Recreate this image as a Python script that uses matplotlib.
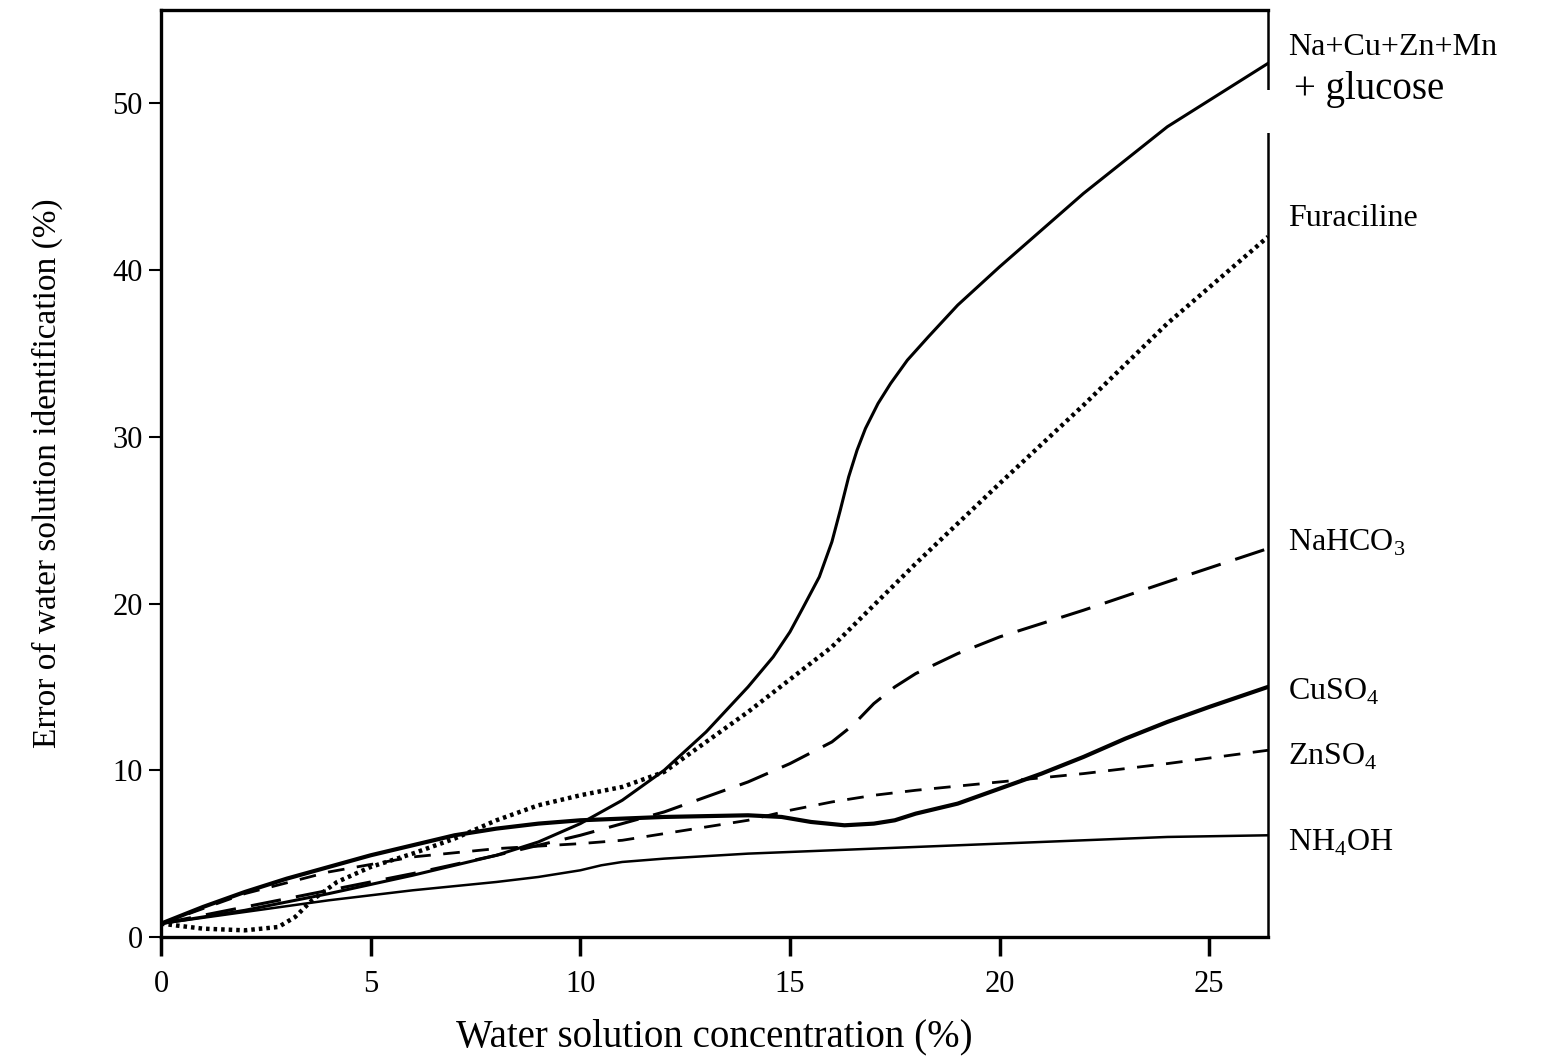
import matplotlib.pyplot as plt
import matplotlib.patches as mpatches

plt.rcParams['font.family'] = ['Liberation Serif', 'DejaVu Serif']
plt.rcParams['mathtext.fontset'] = 'custom'
plt.rcParams['mathtext.rm'] = 'Liberation Serif'

# Data (concentration %, identification error %)
mix_x = [0, 2, 4, 6, 8, 9, 10, 11, 12, 13, 14, 14.6, 15.0, 15.3, 15.7, 16.0, 16.2, 16.4, 16.6, 16.8, 17.1,
         17.4, 17.8, 18.3, 19, 20, 22, 24, 26.4]
mix_y = [0.8, 1.6, 2.6, 3.7, 4.9, 5.7, 6.8, 8.2, 10.0, 12.3, 15.0, 16.8, 18.3, 19.7, 21.6, 23.7, 25.6, 27.6,
         29.2, 30.5, 32.0, 33.2, 34.6, 36.0, 37.9, 40.2, 44.6, 48.6, 52.4]

fur_x = [0, 1, 2, 2.8, 3.2, 3.6, 4.2, 5, 6, 7, 8, 9, 10, 11, 12, 14, 16, 18, 20, 22, 24, 26.4]
fur_y = [0.8, 0.5, 0.4, 0.6, 1.2, 2.2, 3.3, 4.2, 5.0, 5.9, 7.0, 7.9, 8.5, 9.0, 9.9, 13.5, 17.4, 22.4, 27.2, 31.9, 36.8, 42.0]

nahco3_x = [0, 2, 4, 6, 8, 10, 12, 14, 15, 16, 16.5, 17, 17.5, 18, 19, 20, 22, 24, 26.4]
nahco3_y = [0.8, 1.8, 2.8, 3.8, 4.9, 6.1, 7.5, 9.3, 10.4, 11.7, 12.7, 14.0, 15.0, 15.8, 17.0, 18.0, 19.6, 21.3, 23.3]

cuso4_x = [0, 1, 2, 3, 4, 5, 6, 7, 8, 9, 10, 11, 12, 13, 14, 14.8, 15.5, 16.3, 17, 17.5, 18, 19, 20, 21, 22, 23, 24, 25, 26.4]
cuso4_y = [0.8, 1.8, 2.7, 3.5, 4.2, 4.9, 5.5, 6.1, 6.5, 6.8, 7.0, 7.1, 7.2, 7.25, 7.3, 7.2, 6.9, 6.7, 6.8, 7.0, 7.4, 8.0, 8.9, 9.8, 10.8, 11.9, 12.9, 13.8, 15.0]

znso4_x = [0, 2, 4, 6, 8, 10, 11, 12, 13, 14, 15, 16, 17, 18, 20, 22, 24, 26.4]
znso4_y = [0.8, 2.6, 3.9, 4.8, 5.3, 5.6, 5.8, 6.2, 6.6, 7.0, 7.6, 8.1, 8.5, 8.8, 9.3, 9.8, 10.4, 11.2]

nh4oh_x = [0, 2, 4, 6, 8, 9, 10, 10.5, 11, 12, 14, 16, 18, 20, 22, 24, 26.4]
nh4oh_y = [0.8, 1.5, 2.2, 2.8, 3.3, 3.6, 4.0, 4.3, 4.5, 4.7, 5.0, 5.2, 5.4, 5.6, 5.8, 6.0, 6.1]

x_ticks = [0, 5, 10, 15, 20, 25]
y_ticks = [0, 10, 20, 30, 40, 50]

fig = plt.figure(figsize=(15.66, 10.56), dpi=100)
ax = fig.add_axes([0.1028, 0.1127, 0.7069, 0.8778])

kw = dict(color='black', solid_joinstyle='round', dash_joinstyle='round')
ax.plot(nh4oh_x, nh4oh_y, lw=1.8, **kw)
ax.plot(znso4_x, znso4_y, lw=2.0, dashes=(6, 4.5), **kw)
ax.plot(cuso4_x, cuso4_y, lw=3.0, **kw)
ax.plot(nahco3_x, nahco3_y, lw=2.2, dashes=(10, 5), **kw)
ax.plot(fur_x, fur_y, lw=3.2, linestyle=(0, (0.8, 0.9)), **kw)
ax.plot(mix_x, mix_y, lw=2.2, **kw)

ax.set_xlim(0, 26.4)
ax.set_ylim(0, 55.6)
ax.set_xticks(x_ticks)
ax.set_yticks(y_ticks)
ax.tick_params(axis='x', direction='out', length=14, width=2.5, labelsize=22, pad=10)
ax.tick_params(axis='y', direction='out', length=9, width=1.5, labelsize=22, pad=4)

for side in ['left', 'bottom', 'top']:
    ax.spines[side].set_linewidth(2.4)
ax.spines['right'].set_linewidth(1.8)

# small break in the right frame next to the "+ glucose" label
ax.add_patch(mpatches.Rectangle((0.995, 0.867), 0.01, 0.047, transform=ax.transAxes,
                                facecolor='white', edgecolor='none', clip_on=False, zorder=5))

ax.set_xlabel('Water solution concentration (%)', fontsize=28, labelpad=14)
ax.set_ylabel('Error of water solution identification (%)', fontsize=24, labelpad=36)

labels = [
    (0.8225, 0.955, 'Na+Cu+Zn+Mn', 23),
    (0.8265, 0.915, '+ glucose', 28),
    (0.8225, 0.793, 'Furaciline', 23),
    (0.8225, 0.486, 'NaHCO$_3$', 23),
    (0.8225, 0.345, 'CuSO$_4$', 23),
    (0.8225, 0.283, 'ZnSO$_4$', 23),
    (0.8225, 0.202, 'NH$_4$OH', 23),
]
for lx, ly, txt, fs in labels:
    fig.text(lx, ly, txt, fontsize=fs, va='center', ha='left')

fig.savefig('out.png', dpi=100, facecolor='white')
